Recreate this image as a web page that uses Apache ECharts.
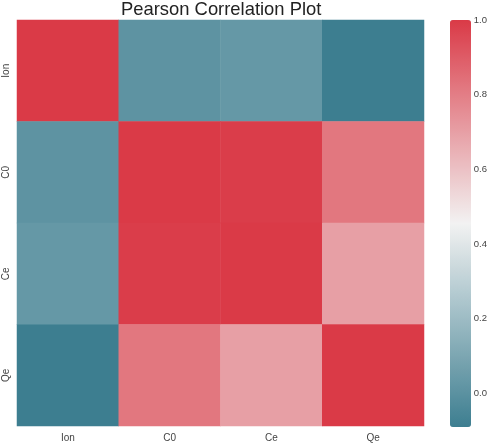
<!DOCTYPE html>
<html>
<head>
<meta charset="utf-8">
<script src="https://cdn.jsdelivr.net/npm/echarts@6/dist/echarts.min.js"></script>
<style>html,body{margin:0;padding:0;background:#fff}#c{width:490px;height:443px}</style>
</head>
<body>
<div id="c"></div>
<script>
const categories = ['Ion', 'C0', 'Ce', 'Qe'];
const rowIon = [1.00, 0.01, 0.03, -0.09];
const rowC0  = [0.01, 1.00, 0.99, 0.82];
const rowCe  = [0.03, 0.99, 1.00, 0.70];
const rowQe  = [-0.09, 0.82, 0.70, 1.00];
const colorbarTicks = [0.0, 0.2, 0.4, 0.6, 0.8, 1.0];
const vMin = -0.09, vMax = 1.0;

const rows = [rowIon, rowC0, rowCe, rowQe];
const data = [];
rows.forEach((r, i) => r.forEach((v, j) => data.push([j, i, v])));

const chart = echarts.init(document.getElementById('c'));
chart.setOption({
  animation: false,
  backgroundColor: '#fff',
  textStyle: { fontFamily: 'Liberation Sans, Arial, sans-serif' },
  title: {
    text: 'Pearson Correlation Plot',
    left: 121, top: 1, padding: 0,
    textStyle: { fontSize: 18.4, fontWeight: 'normal', color: '#222', fontFamily: 'Liberation Sans, Arial, sans-serif' }
  },
  grid: [
    { left: 17, top: 20, width: 407, height: 407 },
    { left: 450, top: 20, width: 21, height: 407 }
  ],
  xAxis: [
    { type: 'category', data: categories, gridIndex: 0,
      axisLine: { show: false }, axisTick: { show: false }, splitLine: { show: false },
      axisLabel: { color: '#444', fontSize: 10, margin: 7 } },
    { type: 'value', gridIndex: 1, show: false, min: 0, max: 1 }
  ],
  yAxis: [
    { type: 'category', data: categories, gridIndex: 0, inverse: true,
      axisLine: { show: false }, axisTick: { show: false }, splitLine: { show: false },
      axisLabel: { color: '#444', fontSize: 10, rotate: 90, margin: 6 } },
    { type: 'value', gridIndex: 1, min: vMin, max: vMax, position: 'right',
      axisLine: { show: false }, axisTick: { show: false }, splitLine: { show: false },
      axisLabel: { color: '#444', fontSize: 9.5, margin: 6, customValues: colorbarTicks,
        formatter: v => Number(v).toFixed(1) } }
  ],
  visualMap: {
    type: 'continuous', seriesIndex: 0, min: vMin, max: vMax,
    calculable: false, orient: 'vertical', left: 450, top: 20, padding: 0,
    itemWidth: 21, itemHeight: 407, text: null, showLabel: false,
    inRange: { color: ['#3d7e90', '#f2f2f2', '#da3a47'] }
  },
  series: [
    { type: 'heatmap', xAxisIndex: 0, yAxisIndex: 0, data: data,
      itemStyle: { borderWidth: 0 }, emphasis: { disabled: true }, label: { show: false } },
    { type: 'scatter', xAxisIndex: 1, yAxisIndex: 1, data: [], silent: true }
  ]
});
</script>
</body>
</html>
